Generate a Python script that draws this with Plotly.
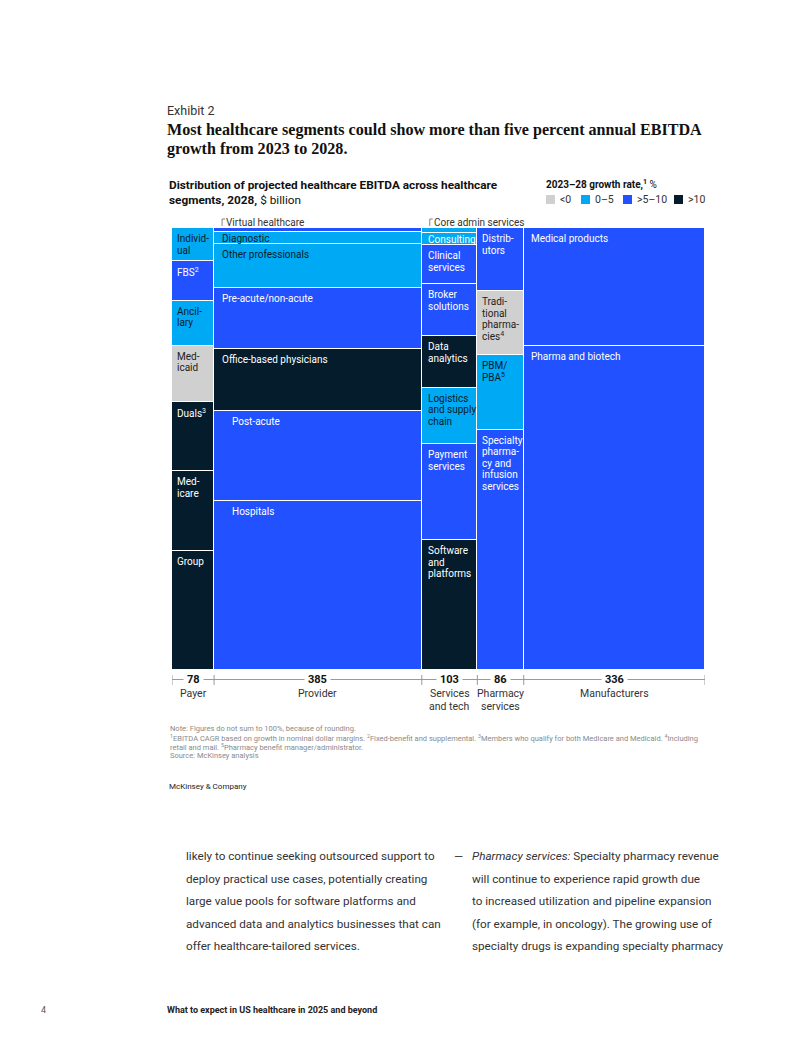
import plotly.graph_objects as go

# ---------------- data ----------------
columns = ["Payer", "Provider", "Services and tech", "Pharmacy services", "Manufacturers"]
column_labels = ["Payer", "Provider", "Services<br>and tech", "Pharmacy<br>services", "Manufacturers"]
column_totals = [78, 385, 103, 86, 336]

payer_segments = ["Individual", "FBS", "Ancillary", "Medicaid", "Duals", "Medicare", "Group"]
payer_labels = ["Individ-<br>ual", "FBS<sup>2</sup>", "Ancil-<br>lary", "Med-<br>icaid", "Duals<sup>3</sup>", "Med-<br>icare", "Group"]
payer_values = [5.8, 6.9, 7.8, 9.9, 12.0, 13.9, 20.8]
payer_growth = ["0–5", ">5–10", "0–5", "<0", ">10", ">10", ">10"]

provider_segments = ["Virtual healthcare", "Diagnostic", "Other professionals", "Pre-acute/non-acute",
                     "Office-based physicians", "Post-acute", "Hospitals"]
provider_labels = ["", "Diagnostic", "Other professionals", "Pre-acute/non-acute",
                   "Office-based physicians", "Post-acute", "Hospitals"]
provider_values = [3.5, 10.5, 37.7, 53.0, 54.0, 77.5, 146.3]
provider_growth = [">5–10", "0–5", "0–5", ">5–10", ">10", ">5–10", ">5–10"]

services_segments = ["Core admin services", "Consulting", "Clinical services", "Broker solutions",
                     "Data analytics", "Logistics and supply chain", "Payment services", "Software and platforms"]
services_labels = ["", "Consulting", "Clinical<br>services", "Broker<br>solutions", "Data<br>analytics",
                   "Logistics<br>and supply<br>chain", "Payment<br>services", "Software<br>and<br>platforms"]
services_values = [1.2, 2.8, 9.1, 12.1, 12.1, 13.1, 22.4, 30.3]
services_growth = ["0–5", "0–5", ">5–10", ">5–10", ">10", "0–5", ">5–10", ">10"]

pharmacy_segments = ["Distributors", "Traditional pharmacies", "PBM/PBA", "Specialty pharmacy and infusion services"]
pharmacy_labels = ["Distrib-<br>utors", "Tradi-<br>tional<br>pharma-<br>cies<sup>4</sup>", "PBM/<br>PBA<sup>5</sup>",
                   "Specialty<br>pharma-<br>cy and<br>infusion<br>services"]
pharmacy_values = [12.3, 12.3, 14.6, 46.7]
pharmacy_growth = [">5–10", "<0", "0–5", ">5–10"]

manufacturer_segments = ["Medical products", "Pharma and biotech"]
manufacturer_labels = ["Medical products", "Pharma and biotech"]
manufacturer_values = [89.7, 246.3]
manufacturer_growth = [">5–10", ">5–10"]

growth_classes = ["<0", "0–5", ">5–10", ">10"]
thin_strip_callouts = [(1, "Virtual healthcare"), (2, "Core admin services")]

# ---------------- style ----------------
COLORS = {"<0": "#d0d0d0", "0–5": "#00a9f4", ">5–10": "#2251ff", ">10": "#051c2c"}
TEXT_ON = {"<0": "#222222", "0–5": "#051c2c", ">5–10": "#ffffff", ">10": "#ffffff"}
WHITE_TEXT_OVERRIDE = {"Consulting"}
COLUMN_PAD = [4, 7, 5.5, 4, 6]
EXTRA_INDENT = {"Post-acute": 10, "Hospitals": 10}
TOP_OFFSET = {"Diagnostic": 6.5, "Consulting": 6.5}
FONT = "Roboto, Liberation Sans, Arial, sans-serif"
SERIF = "Liberation Serif, DejaVu Serif, serif"

OFF = 8  # page body margin
L, T, R, B = 172, 228, 705, 670      # plot area in page pixels
PAGE_W, PAGE_H = 802, 1037
FIG_W, FIG_H = PAGE_W - OFF, PAGE_H - OFF
PW, PH = R - L, B - T


def px(x):
    return (x - L) / PW


def py(y):
    return (B - y) / PH


annotations = []
shapes = []


def text_lines(x, y, text, size, color, lh, family=FONT, xanchor="left", xref="paper", yref="paper",
               xshift=0, yshift=0, bg=None):
    """place multi-line text with controlled line height; y = centre of first line"""
    for i, line in enumerate(text.split("<br>")):
        a = dict(x=x, y=y, xref=xref, yref=yref, text=line, showarrow=False,
                 xanchor=xanchor, yanchor="middle", xshift=xshift, yshift=yshift - i * lh,
                 font=dict(family=family, size=size, color=color), borderpad=0)
        if bg:
            a["bgcolor"] = bg
        annotations.append(a)


col_data = [
    (payer_segments, payer_labels, payer_values, payer_growth),
    (provider_segments, provider_labels, provider_values, provider_growth),
    (services_segments, services_labels, services_values, services_growth),
    (pharmacy_segments, pharmacy_labels, pharmacy_values, pharmacy_growth),
    (manufacturer_segments, manufacturer_labels, manufacturer_values, manufacturer_growth),
]

fig = go.Figure()

left = 0.0
lefts = []
for ci, (segs, labs, vals, grs) in enumerate(col_data):
    total = column_totals[ci]
    lefts.append(left)
    s = sum(vals)
    cum = 0.0
    for seg, lab, v, g in zip(segs, labs, vals, grs):
        share = v / s * 100
        fig.add_trace(go.Bar(
            x=[left + total / 2], y=[share], width=[total], name=seg,
            marker=dict(color=COLORS[g], line=dict(color="white", width=1.2)),
            showlegend=False, hoverinfo="name", textposition="none",
        ))
        if lab:
            tc = "#ffffff" if seg in WHITE_TEXT_OVERRIDE else TEXT_ON[g]
            text_lines(left, cum, lab, 10, tc, 11.5, xref="x", yref="y",
                       xshift=COLUMN_PAD[ci] + EXTRA_INDENT.get(seg, 0),
                       yshift=-TOP_OFFSET.get(seg, 10.5))
        cum += share
    left += total
lefts.append(left)
grand = left
unit_per_px = grand / PW

# ------------- value axis under chart -------------
shapes.append(dict(type="line", xref="x", yref="paper", x0=0, x1=grand, y0=py(679.5), y1=py(679.5),
                   line=dict(color="#9a9a9a", width=1)))
for b in lefts:
    shapes.append(dict(type="line", xref="x", yref="paper", x0=b, x1=b, y0=py(675), y1=py(685),
                       line=dict(color="#9a9a9a", width=1)))
for ci, total in enumerate(column_totals):
    cx = lefts[ci] + total / 2
    annotations.append(dict(x=cx, y=py(679.5), xref="x", yref="paper", text=f"<b>{total}</b>",
                            showarrow=False, xanchor="center", yanchor="middle", bgcolor="white",
                            borderpad=3, font=dict(family=FONT, size=11, color="#111111")))
    text_lines(cx, py(693), column_labels[ci], 10.5, "#333333", 13, xanchor="center", xref="x")

# ------------- callouts for thin strips -------------
for ci, label in thin_strip_callouts:
    hx = lefts[ci] + 8 * unit_per_px
    shapes.append(dict(type="line", xref="x", yref="paper", x0=hx, x1=hx, y0=py(226), y1=py(219),
                       line=dict(color="#666666", width=0.8)))
    shapes.append(dict(type="line", xref="x", yref="paper", x0=hx, x1=hx + 3 * unit_per_px,
                       y0=py(219), y1=py(219), line=dict(color="#666666", width=0.8)))
    annotations.append(dict(x=hx, y=py(222), xref="x", yref="paper", text=label, showarrow=False,
                            xanchor="left", yanchor="middle", xshift=3, borderpad=0,
                            font=dict(family=FONT, size=10, color="#333333")))

# ------------- header -------------
text_lines(px(166), py(110), "Exhibit 2", 12.5, "#333333", 15)
text_lines(px(166), py(130),
           "<b>Most healthcare segments could show more than five percent annual EBITDA</b><br>"
           "<b>growth from 2023 to 2028.</b>", 16.1, "#111111", 19.5, family=SERIF)
text_lines(px(168), py(185),
           "<b>Distribution of projected healthcare EBITDA across healthcare</b><br>"
           "<b>segments, 2028,</b> $ billion", 11.8, "#111111", 15)
text_lines(px(545), py(185), "<b>2023–28 growth rate,<sup>1</sup></b> %", 10, "#111111", 12)
legend_x = [546, 581, 623, 674]
for g, lx in zip(growth_classes, legend_x):
    shapes.append(dict(type="rect", xref="paper", yref="paper", x0=px(lx), x1=px(lx + 9),
                       y0=py(204), y1=py(195), fillcolor=COLORS[g], line=dict(width=0)))
    text_lines(px(lx + 13), py(199.5), g, 10.5, "#333333", 12)

# ------------- notes -------------
notes = ("Note: Figures do not sum to 100%, because of rounding.<br>"
         "<sup>1</sup>EBITDA CAGR based on growth in nominal dollar margins. <sup>2</sup>Fixed-benefit and supplemental. "
         "<sup>3</sup>Members who qualify for both Medicare and Medicaid. <sup>4</sup>Including<br>"
         "retail and mail. <sup>5</sup>Pharmacy benefit manager/administrator.<br>"
         "Source: McKinsey analysis")
text_lines(px(169), py(728.5), notes, 7.5, "#8a8a8a", 9)
text_lines(px(168), py(786), "McKinsey & Company", 8, "#222222", 10)

# ------------- body text -------------
left_body = ["likely to continue seeking outsourced support to",
             "deploy practical use cases, potentially creating",
             "large value pools for software platforms and",
             "advanced data and analytics businesses that can",
             "offer healthcare-tailored services."]
right_body = ["<i>Pharmacy services:</i> Specialty pharmacy revenue",
              "will continue to experience rapid growth due",
              "to increased utilization and pipeline expansion",
              "(for example, in oncology). The growing use of",
              "specialty drugs is expanding specialty pharmacy"]
text_lines(px(185), py(856), "<br>".join(left_body), 11.7, "#333333", 22.5)
text_lines(px(471), py(856), "<br>".join(right_body), 11.7, "#333333", 22.5)
text_lines(px(453), py(856), "—", 11.7, "#333333", 22.5)

# ------------- footer -------------
text_lines(px(40), py(1010), "4", 9, "#555555", 11)
text_lines(px(166), py(1010), "<b>What to expect in US healthcare in 2025 and beyond</b>", 9, "#222222", 11)

fig.update_layout(
    width=FIG_W, height=FIG_H,
    margin=dict(l=L - OFF, r=FIG_W - (R - OFF), t=T - OFF, b=FIG_H - (B - OFF), pad=0),
    barmode="stack", bargap=0,
    plot_bgcolor="white", paper_bgcolor="white",
    xaxis=dict(range=[0, grand], visible=False, fixedrange=True),
    yaxis=dict(range=[100, 0], visible=False, fixedrange=True),
    annotations=annotations, shapes=shapes,
    font=dict(family=FONT),
)
fig.write_html("out.html")
